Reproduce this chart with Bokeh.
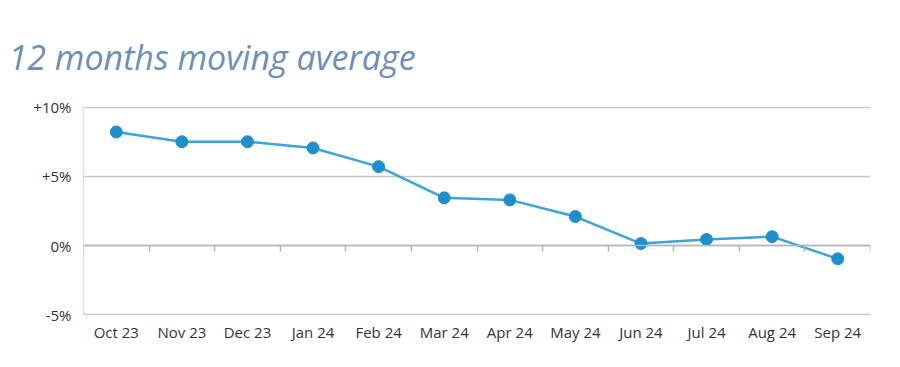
from bokeh.plotting import figure
from bokeh.models import Range1d, FixedTicker, LinearAxis, ColumnDataSource
from bokeh.embed import file_html
from bokeh.resources import INLINE
import numpy as np

months = ["Oct 23", "Nov 23", "Dec 23", "Jan 24", "Feb 24", "Mar 24",
          "Apr 24", "May 24", "Jun 24", "Jul 24", "Aug 24", "Sep 24"]
values = [8.2, 7.5, 7.5, 7.05, 5.7, 3.45, 3.3, 2.1, 0.15, 0.45, 0.65, -0.95]
y_ticks = [-5, 0, 5, 10]
y_tick_labels = ["-5%", "0%", "+5%", "+10%"]

pos = np.arange(len(months)) + 0.5
src = ColumnDataSource(dict(x=pos, y=values, m=months))

p = figure(width=884, height=351, output_backend="svg", toolbar_location=None,
           x_range=Range1d(0, len(months)), y_range=Range1d(-5.04, 10.04),
           min_border_left=83, min_border_right=14, min_border_top=106,
           min_border_bottom=36, title="12 months moving average")
p.outline_line_color = None
p.background_fill_color = "white"
p.border_fill_color = "white"

t = p.title
t.text_font = "Open Sans"
t.text_font_style = "italic"
t.text_font_size = "34px"
t.text_color = "#6b8fb8"
t.offset = -75
t.standoff = 54

# y axis
ya = p.yaxis[0]
ya.ticker = FixedTicker(ticks=y_ticks)
ya.major_label_overrides = {k: v for k, v in zip(y_ticks, y_tick_labels)}
ya.axis_line_color = "#dcdcdc"
ya.axis_line_width = 1.5
ya.major_tick_line_color = None
ya.minor_tick_line_color = None
ya.major_label_text_font = "Open Sans"
ya.major_label_text_font_size = "15px"
ya.major_label_text_color = "#333333"
ya.major_label_standoff = 6

# x axis (labels only)
xa = p.xaxis[0]
xa.ticker = FixedTicker(ticks=list(pos))
xa.major_label_overrides = {float(k): v for k, v in zip(pos, months)}
xa.axis_line_color = None
xa.major_tick_line_color = None
xa.minor_tick_line_color = None
xa.major_label_text_font = "Open Sans"
xa.major_label_text_font_size = "15px"
xa.major_label_text_color = "#333333"
xa.major_label_standoff = 0

# zero-line axis with category boundary ticks
za = LinearAxis(fixed_location=0, ticker=FixedTicker(ticks=list(range(len(months) + 1))))
za.major_label_text_font_size = "0px"
za.major_label_text_color = None
za.axis_line_color = "#b5b5b5"
za.axis_line_width = 1.5
za.major_tick_line_color = "#b5b5b5"
za.major_tick_line_width = 1.5
za.major_tick_in = 0
za.major_tick_out = 6
za.minor_tick_line_color = None
p.add_layout(za, "below")

p.xgrid.grid_line_color = None
p.ygrid.grid_line_color = "#c8c8c8"
p.ygrid.grid_line_width = 1.5

p.line("x", "y", source=src, line_color="#3aa4da", line_width=2.5)
p.scatter("x", "y", source=src, size=12, fill_color="#1f8fcc", line_color="#1f8fcc")

open("out.html", "w").write(file_html(p, INLINE))
